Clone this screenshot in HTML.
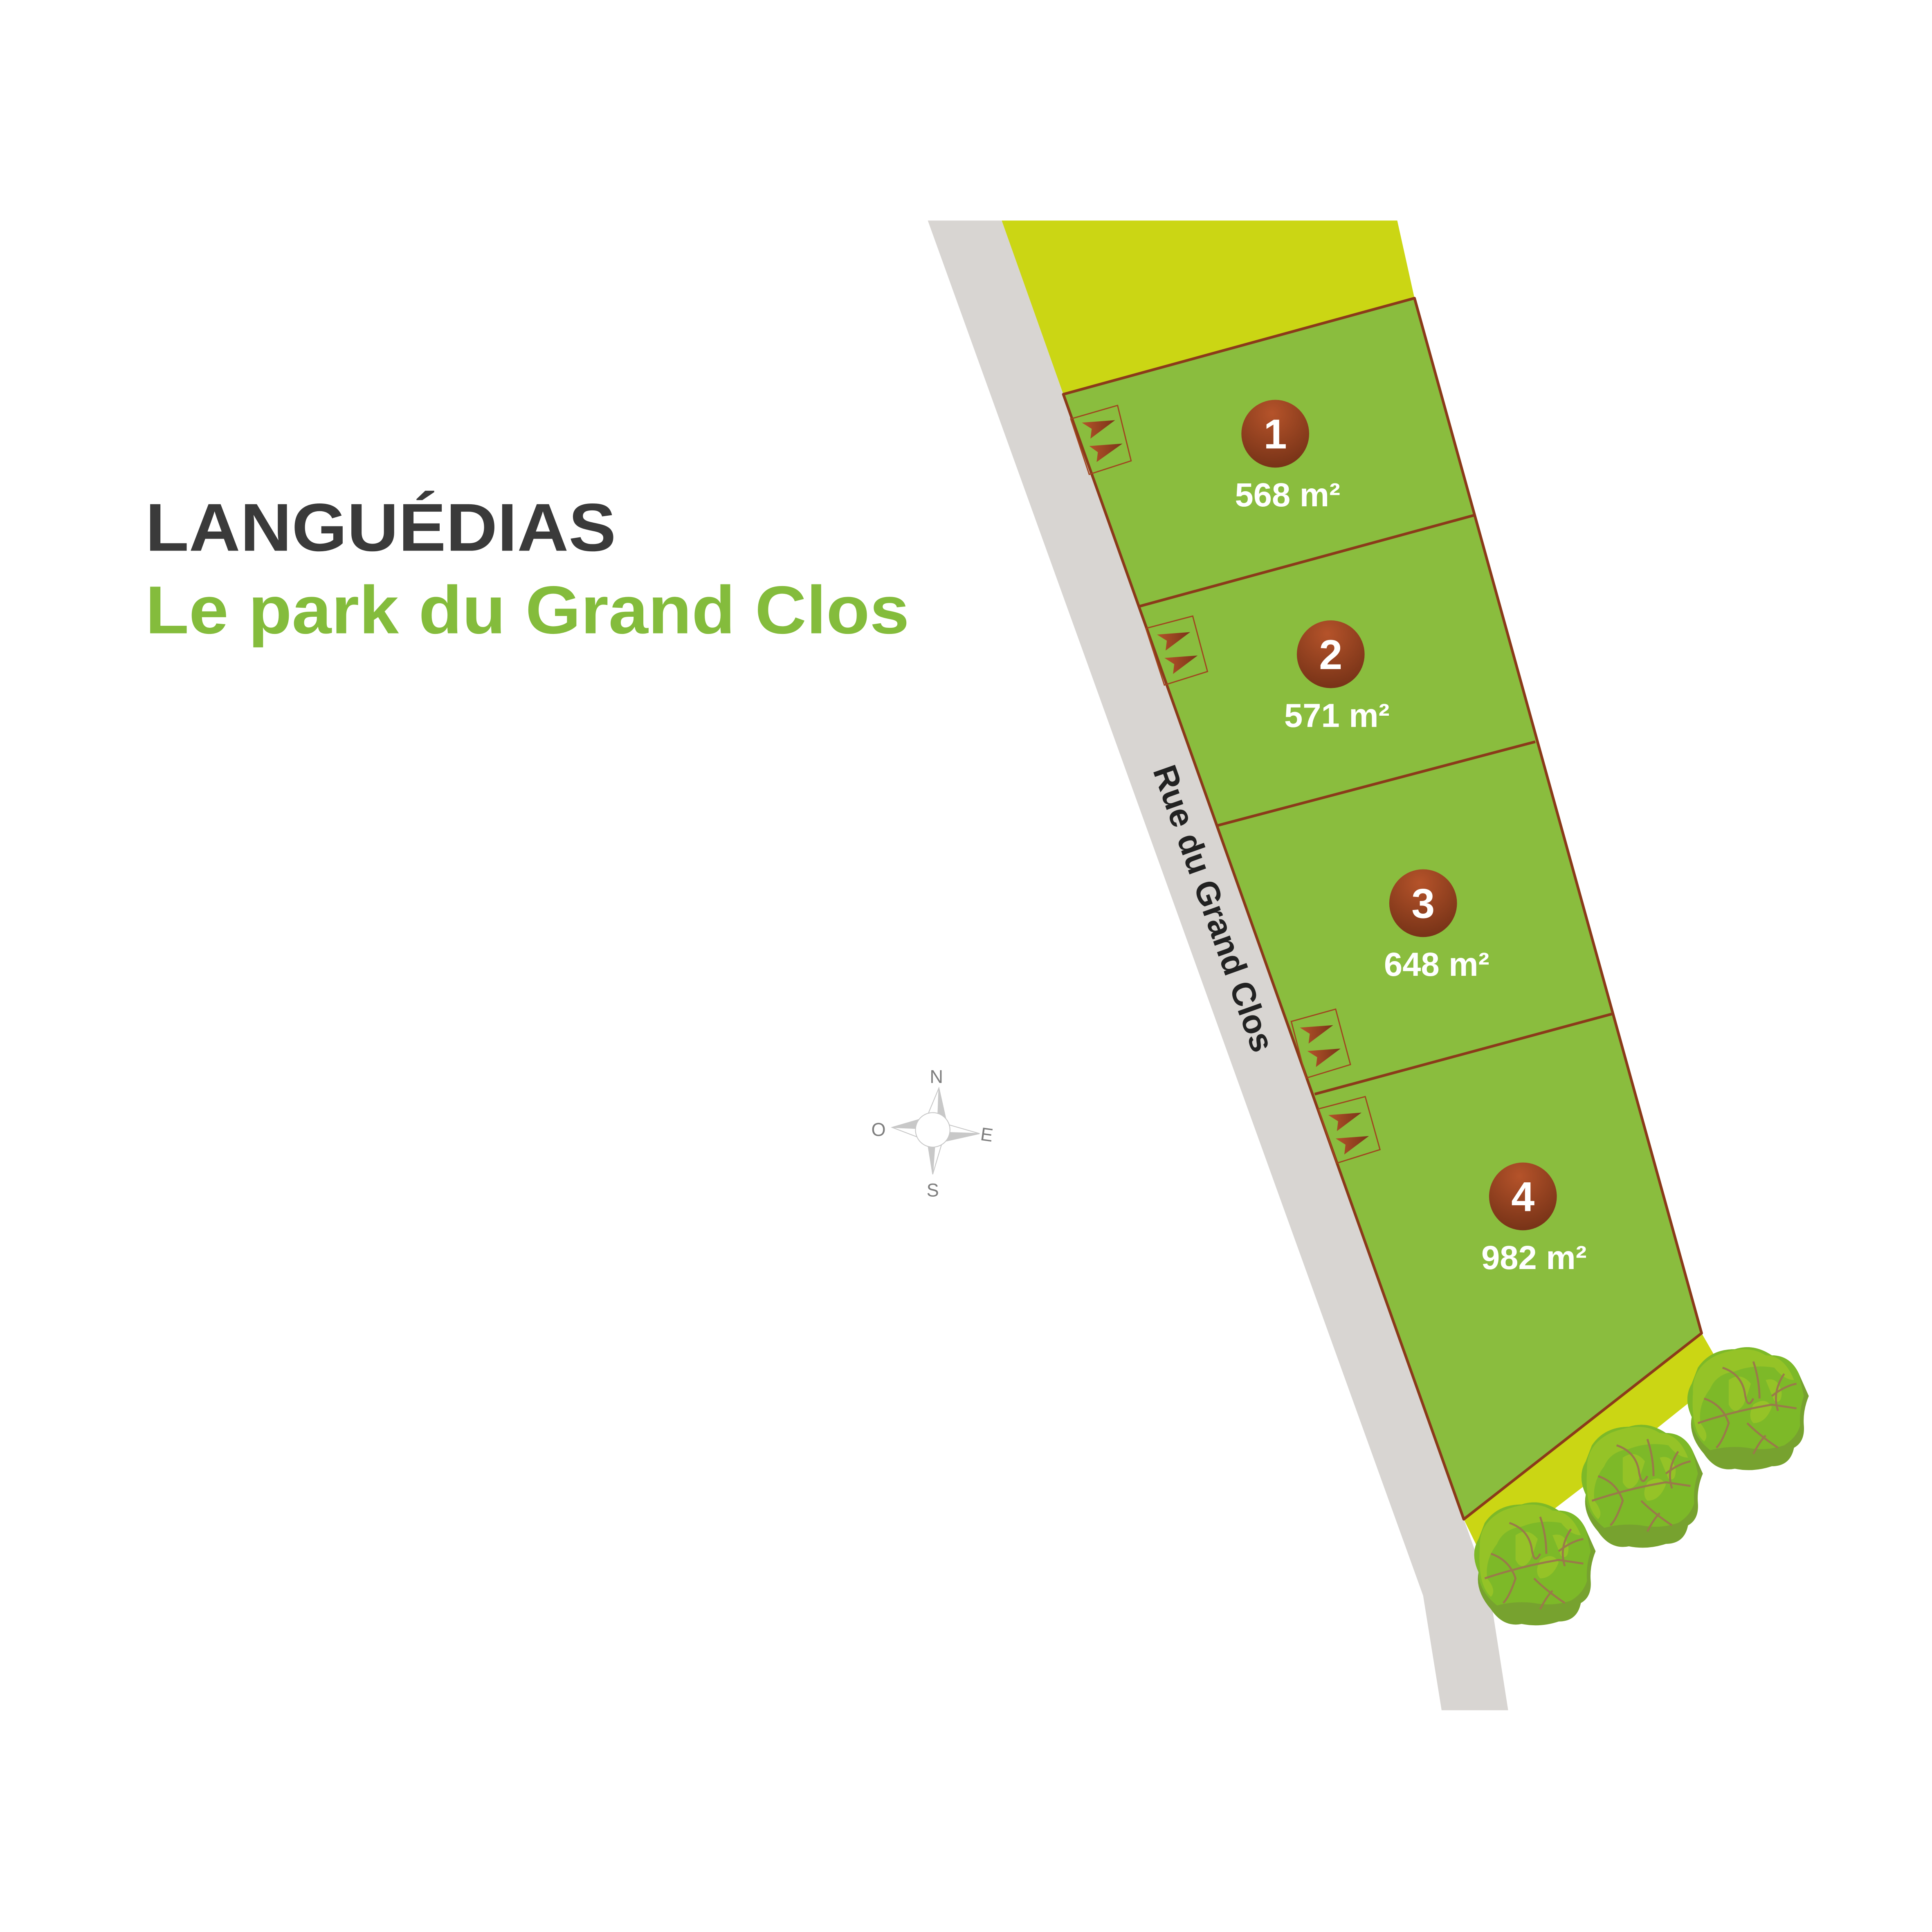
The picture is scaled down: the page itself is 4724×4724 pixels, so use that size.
<!DOCTYPE html>
<html><head><meta charset="utf-8"><style>html,body{margin:0;padding:0;background:#fff}svg{display:block}</style></head>
<body>
<svg width="4724" height="4724" viewBox="0 0 1568 1568" xmlns="http://www.w3.org/2000/svg">
<defs>
<radialGradient id="cg" cx="0.45" cy="0.2" r="0.9">
<stop offset="0" stop-color="#b5532a"/><stop offset="1" stop-color="#702f15"/>
</radialGradient>
<linearGradient id="tg" x1="0" y1="0" x2="1" y2="0"><stop offset="0" stop-color="#b5532a"/><stop offset="1" stop-color="#7a3418"/></linearGradient>
<g id="tree">
<path d="M-40,-35 Q-30,-50 -10,-50 Q5,-55 20,-45 Q35,-45 42,-30 L50,-12 Q45,0 46,12 Q47,25 38,30 Q35,45 20,45 Q5,50 -10,47 Q-25,50 -35,35 Q-48,20 -45,5 Q-52,-10 -45,-22 Z" fill="#77a22f"/>
<path d="M-40,-35 Q-30,-50 -10,-50 Q5,-55 20,-45 Q35,-45 42,-30 L46,-12 Q42,0 43,12 Q40,22 30,28 Q15,33 0,30 Q-15,28 -30,32 Q-45,20 -45,5 Q-52,-10 -45,-22 Z" fill="#7db928"/>
<path d="M-44,-15 Q-45,-35 -25,-45 Q0,-55 15,-45 Q30,-45 38,-25 Q30,-25 22,-35 Q5,-38 -10,-32 Q-25,-30 -30,-18 Q-40,-5 -38,10 Q-30,20 -35,25 Q-46,15 -44,-15 Z" fill="#95c327"/>
<path d="M-15,-25 Q-5,-32 3,-22 Q0,-12 -3,-5 Q-10,5 -15,-5 Z M5,-5 Q15,-12 20,-3 Q15,10 5,10 Q0,5 5,-5 Z M15,-25 Q25,-28 28,-15 Q28,-5 22,-8 Z" fill="#95c327"/>
<path d="M-35,-10 Q-20,-5 -15,10 Q-20,25 -25,30 M-40,10 Q-10,0 20,-5 L40,-2 M-20,-35 Q-5,-30 -2,-15 Q0,0 5,-10 M5,-40 Q10,-25 10,-10 M0,10 Q10,20 25,30 M15,20 Q10,25 5,35 M30,-30 Q20,-15 25,0 M20,-12 Q30,-20 40,-22" fill="none" stroke="#9a7a4a" stroke-width="1.6"/>
</g>
</defs>
<rect width="1568" height="1568" fill="#fff"/>
<polygon points="753,179 813,179 863,320 1188,1233 1209,1292 1224,1388 1170,1388 1155,1295" fill="#d8d5d2"/>
<polygon points="813,179 1134,179 1148,242 863,320" fill="#cbd614"/>
<polygon points="1381,1082 1400,1115 1300,1195 1205,1268 1188,1233" fill="#cbd614"/>
<polygon points="863,320 1148,242 1381,1082 1188,1233" fill="#8abd3e" stroke="#8b3a1a" stroke-width="2.2" stroke-linejoin="round"/>
<g stroke="#8b3a1a" stroke-width="2.2">
<line x1="925" y1="492" x2="1197" y2="418"/>
<line x1="988" y1="670" x2="1246" y2="602"/>
<line x1="1067" y1="888" x2="1308" y2="823"/>
</g>
<g fill="none" stroke="#a0461f" stroke-width="1">
<polygon points="869,340 907,329 918,374 884,385"/>
<polygon points="930,510 968,500 980,545 945,556"/>
<polygon points="1048,829 1084,819 1096,864 1060,875"/>
<polygon points="1070,900 1108,890 1120,933 1085,944"/>
</g>
<g fill="url(#tg)">
<path d="M878,343 L905,341 L885,356 L886,348 Z"/><path d="M884,362 L911,360 L890,375 L891,367 Z"/>
<path d="M939,515 L966,513 L946,528 L947,520 Z"/><path d="M945,534 L972,532 L952,547 L953,539 Z"/>
<path d="M1055,834 L1082,832 L1062,847 L1063,839 Z"/><path d="M1061,853 L1088,851 L1068,866 L1069,858 Z"/>
<path d="M1078,905 L1105,903 L1085,918 L1086,910 Z"/><path d="M1084,924 L1111,922 L1091,937 L1092,929 Z"/>
</g>
<g fill="url(#cg)">
<circle cx="1035" cy="352" r="27.5"/><circle cx="1080" cy="531" r="27.5"/>
<circle cx="1155" cy="733" r="27.5"/><circle cx="1236" cy="971" r="27.5"/>
</g>
<g font-family="Liberation Sans, sans-serif" font-weight="bold" fill="#fff" text-anchor="middle">
<text x="1035" y="364" font-size="34">1</text>
<text x="1080" y="543" font-size="34">2</text>
<text x="1155" y="745" font-size="34">3</text>
<text x="1236" y="983" font-size="34">4</text>
<text x="1045" y="411" font-size="27">568 m²</text>
<text x="1085" y="590" font-size="27">571 m²</text>
<text x="1166" y="792" font-size="27">648 m²</text>
<text x="1245" y="1030" font-size="27">982 m²</text>
</g>
<text x="0" y="0" transform="translate(983,738) rotate(70.5)" font-family="Liberation Sans, sans-serif" font-weight="bold" font-size="27" fill="#222" text-anchor="middle" dominant-baseline="middle">Rue du Grand Clos</text>
<text x="118" y="447" font-family="Liberation Sans, sans-serif" font-weight="bold" font-size="55" fill="#3a3a3a" textLength="382" lengthAdjust="spacingAndGlyphs">LANGUÉDIAS</text>
<text x="118" y="514" font-family="Liberation Sans, sans-serif" font-weight="bold" font-size="55" fill="#84bc3c" textLength="620" lengthAdjust="spacingAndGlyphs">Le park du Grand Clos</text>
<g stroke="#c8c8c8" stroke-width="0.7">
<polygon points="762,883 768,910 757,917 752,907" fill="#fff"/>
<polygon points="762,883 768,910 761,910" fill="#c8c8c8"/>
<polygon points="757,953 752,922 757,917 765,926" fill="#fff"/>
<polygon points="757,953 752,922 759,925" fill="#c8c8c8"/>
<polygon points="724,915 748,908 757,917 745,923" fill="#fff"/>
<polygon points="724,915 748,908 747,916" fill="#c8c8c8"/>
<polygon points="795,920 767,912 757,917 768,926" fill="#fff"/>
<polygon points="795,920 767,919 768,926" fill="#c8c8c8"/>
<circle cx="757" cy="917" r="14" fill="#fff"/>
</g>
<g font-family="Liberation Sans, sans-serif" font-size="15" fill="#7e7e7e" text-anchor="middle">
<text x="760" y="879">N</text><text x="757" y="971">S</text><text x="713" y="922">O</text>
<text x="801" y="926" transform="rotate(8 801 920)">E</text>
</g>
<use href="#tree" transform="translate(1418,1145)"/>
<use href="#tree" transform="translate(1332,1208)"/>
<use href="#tree" transform="translate(1245,1271)"/>
</svg>
</body></html>
